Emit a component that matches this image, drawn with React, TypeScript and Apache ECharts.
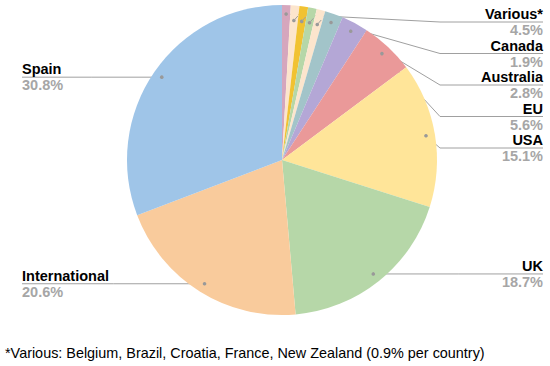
import React, { useEffect, useRef } from 'react';
import * as echarts from 'echarts';

// ---- data ----
const categories = ['Belgium', 'Brazil', 'Croatia', 'France', 'New Zealand', 'Canada', 'Australia', 'EU', 'USA', 'UK', 'International', 'Spain'];
const values = [0.9, 0.9, 0.9, 0.9, 0.9, 1.9, 2.8, 5.6, 15.1, 18.7, 20.6, 30.8];
const variousCount = 5;
const variousLabel = 'Various*';
const footnote = '*Various: Belgium, Brazil, Croatia, France, New Zealand (0.9% per country)';

// ---- style ----
const colors = ['#D5A6BD', '#FCE5CD', '#F1C232', '#B6D7A8', '#FCE5CD', '#A2C4C9', '#B4A7D6', '#EA9999', '#FFE599', '#B6D7A8', '#F9CB9C', '#9FC5E8'];
const FONT = '"Liberation Sans", Arial, Helvetica, sans-serif';
const CX = 282;
const CY = 160;
const R = 155;
const DOT_R = 146;
const SMALL_DOT_R = 140;
const RIGHT_X = 543;
const LEFT_X = 22;
const ELBOW_X = 440;
const STACK_TOP = 22;
const STACK_GAP = 31.5;
const LINE_COLOR = '#a0a0a0';
const LABEL_SIZE = 14.5;
const LABEL_LH = 16;

const total = values.reduce((a, b) => a + b, 0);
const mids: number[] = [];
{
  let acc = 0;
  values.forEach((v) => {
    mids.push(acc + v / 2);
    acc += v;
  });
}
const variousSum = values.slice(0, variousCount).reduce((a, b) => a + b, 0);

const isLabeled = (i: number) => i === 0 || i >= variousCount;
const isSmall = (i: number) => i > 0 && i < variousCount;

function dotPos(i: number): number[] {
  const a = (mids[i] / total) * Math.PI * 2;
  const r = isSmall(i) ? SMALL_DOT_R : DOT_R;
  return [CX + r * Math.sin(a), CY - r * Math.cos(a)];
}

// stacked labels on the upper right
const stackIndex: Record<number, number> = {};
{
  let k = 0;
  values.forEach((_, i) => {
    if (!isLabeled(i)) return;
    const p = dotPos(i);
    if (p[0] > CX && p[1] < CY) {
      stackIndex[i] = k++;
    }
  });
}

export default function App() {
  const ref = useRef<HTMLDivElement>(null);
  useEffect(() => {
    document.body.style.margin = '0';
    if (!ref.current) return;
    const chart = echarts.init(ref.current, undefined, { renderer: 'svg' });

    const pieData = categories.map((name, i) => {
      const item: any = { name, value: values[i], itemStyle: { color: colors[i] } };
      if (!isLabeled(i)) {
        item.label = { show: false };
        item.labelLine = { show: false };
      }
      return item;
    });

    chart.setOption({
      animation: false,
      polar: { center: [CX, CY], radius: R },
      angleAxis: { type: 'value', min: 0, max: total, startAngle: 90, clockwise: true, show: false },
      radiusAxis: { type: 'value', min: 0, max: R, show: false },
      graphic: [
        {
          type: 'text',
          x: 5,
          y: 353,
          style: { text: footnote, fontSize: 14.4, fontFamily: FONT, fill: '#000', verticalAlign: 'middle' },
        },
      ],
      series: [
        {
          type: 'pie',
          center: [CX, CY],
          radius: R,
          startAngle: 90,
          clockwise: true,
          avoidLabelOverlap: false,
          itemStyle: { borderWidth: 0 },
          emphasis: { disabled: true },
          data: pieData,
          label: {
            show: true,
            position: 'outside',
            formatter: (p: any) => {
              const i = p.dataIndex;
              const name = i === 0 ? variousLabel : p.name;
              const v = i === 0 ? variousSum : p.value;
              return '{n|' + name + '}\n{v|' + v.toFixed(1) + '%}';
            },
            rich: {
              n: { fontSize: LABEL_SIZE, fontWeight: 'bold', color: '#000', lineHeight: LABEL_LH, fontFamily: FONT },
              v: { fontSize: LABEL_SIZE, fontWeight: 'bold', color: '#a6a6a6', lineHeight: LABEL_LH, fontFamily: FONT },
            },
          },
          labelLine: { show: true, lineStyle: { color: LINE_COLOR, width: 1 } },
          labelLayout: (params: any) => {
            const i = params.dataIndex;
            if (!isLabeled(i)) return {};
            const p = dotPos(i);
            if (p[0] > CX) {
              const k = stackIndex[i];
              const y = k !== undefined ? STACK_TOP + k * STACK_GAP : p[1];
              const elbow = k !== undefined ? [ELBOW_X, y] : [(p[0] + RIGHT_X) / 2, y];
              return {
                x: RIGHT_X,
                y,
                align: 'right',
                verticalAlign: 'middle',
                labelLinePoints: [p, elbow, [RIGHT_X, y]],
              };
            }
            const y = p[1];
            return {
              x: LEFT_X,
              y,
              align: 'left',
              verticalAlign: 'middle',
              labelLinePoints: [p, [(p[0] + LEFT_X) / 2, y], [LEFT_X, y]],
            };
          },
        },
        {
          type: 'custom',
          coordinateSystem: 'polar',
          silent: true,
          z: 10,
          data: mids.map((m, i) => [i, m]),
          renderItem: (params: any, api: any) => {
            const i = params.dataIndex;
            const small = isSmall(i);
            const pt = api.coord([small ? SMALL_DOT_R : DOT_R, api.value(1)]);
            const children: any[] = [
              { type: 'circle', shape: { cx: pt[0], cy: pt[1], r: 1.8 }, style: { fill: '#999' } },
            ];
            if (small) {
              children.push({
                type: 'line',
                shape: { x1: pt[0], y1: pt[1], x2: pt[0] + 4, y2: pt[1] - 4.5 },
                style: { stroke: LINE_COLOR, lineWidth: 1 },
              });
            }
            return { type: 'group', children };
          },
        },
      ],
    });
    return () => chart.dispose();
  }, []);
  return <div ref={ref} style={{ width: 550, height: 366 }} />;
}
